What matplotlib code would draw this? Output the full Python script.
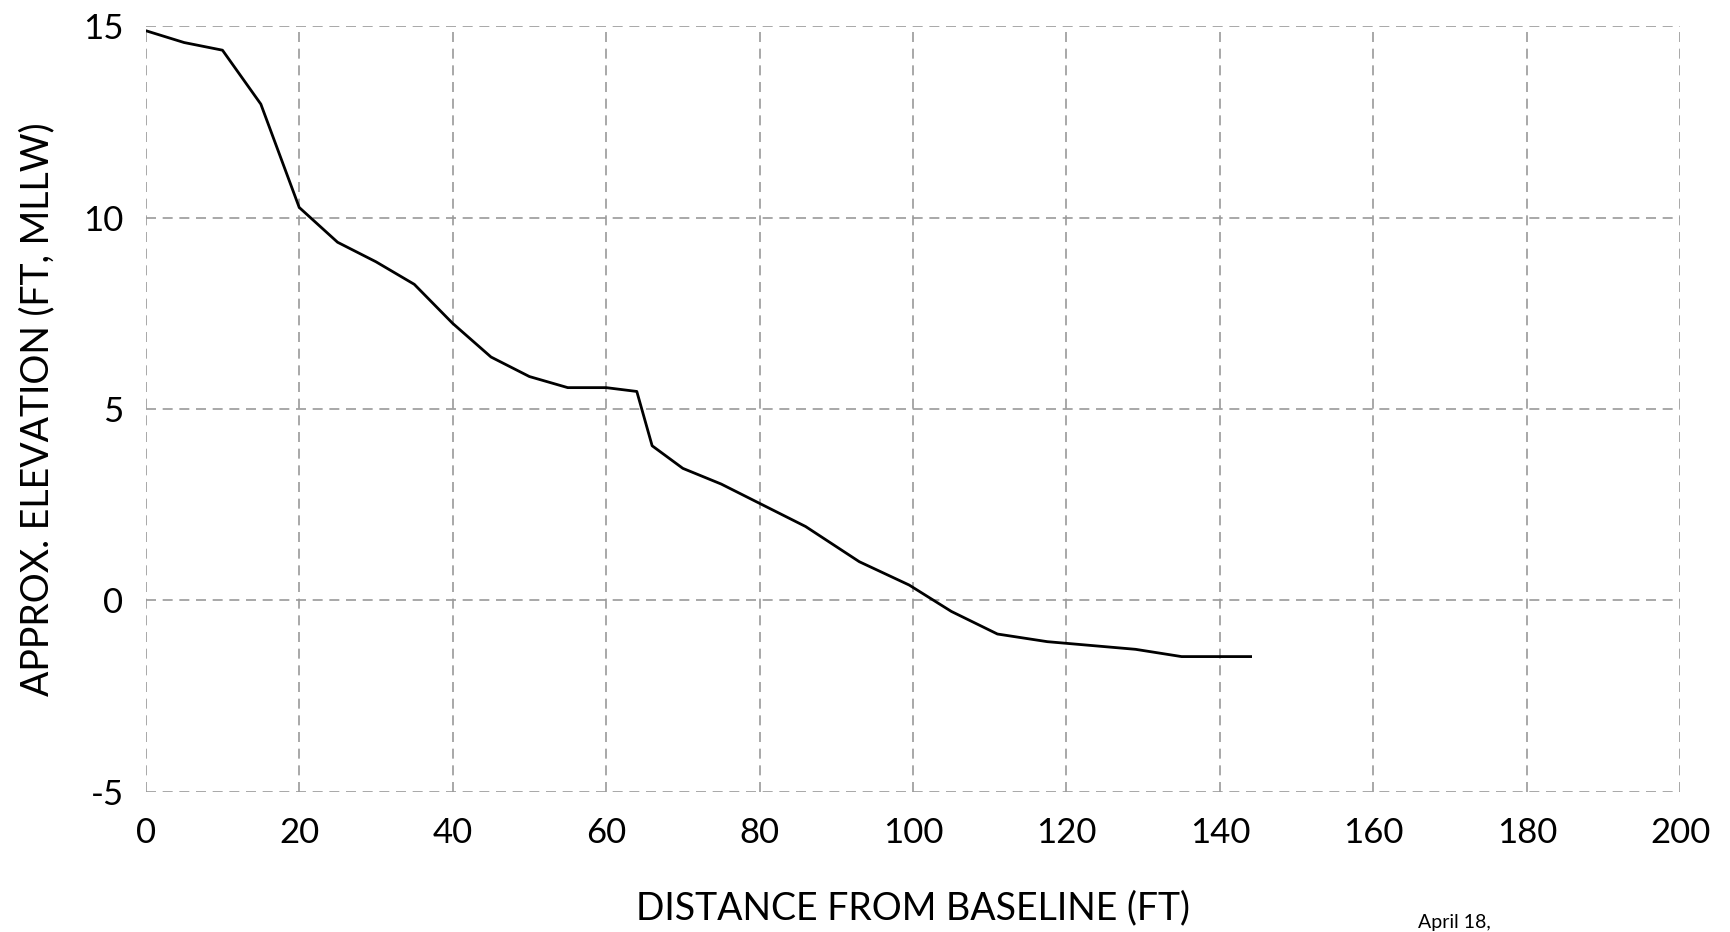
import matplotlib
matplotlib.use("Agg")
import matplotlib.pyplot as plt

# --- profil verisi (mesafe ft, kot ft MLLW)
distance = [0, 5, 10, 15, 20, 25, 30, 35, 40, 45, 50, 55, 60, 64, 66, 70, 75,
            86, 93, 99.5, 105, 111, 117.5, 129, 135, 144]
elevation = [14.89, 14.58, 14.38, 12.97, 10.27, 9.36, 8.85, 8.26, 7.24, 6.36,
             5.85, 5.56, 5.56, 5.46, 4.04, 3.45, 3.04, 1.93, 1.01, 0.40, -0.29,
             -0.88, -1.08, -1.28, -1.47, -1.47]

x_ticks = [0, 20, 40, 60, 80, 100, 120, 140, 160, 180, 200]
y_ticks = [-5, 0, 5, 10, 15]
date_note = "April 18,"

plt.rcParams["font.family"] = ["Lato", "DejaVu Sans"]
plt.rcParams["axes.unicode_minus"] = False

fig = plt.figure(figsize=(17.31, 9.32), dpi=100)
ax = fig.add_axes([0.0842, 0.1506, 0.8865, 0.821])

ax.plot(distance, elevation, color="black", linewidth=2.0, zorder=3)

ax.set_xlim(0, 200)
ax.set_ylim(-5, 15)
ax.set_xticks(x_ticks)
ax.set_yticks(y_ticks)
ax.grid(True, color="#9a9a9a", linestyle=(0, (6, 4)), linewidth=1.2)
for s in ax.spines.values():
    s.set_visible(False)
ax.tick_params(length=0, labelsize=25)
ax.tick_params(axis="x", pad=18)
ax.tick_params(axis="y", pad=16)

ax.set_xlabel("DISTANCE FROM BASELINE (FT)", fontsize=27, labelpad=30)
ax.set_ylabel("APPROX. ELEVATION (FT, MLLW)", fontsize=27, labelpad=20)

fig.text(0.840, 0.001, date_note, fontsize=14, ha="center", va="bottom")

fig.savefig("out.png", dpi=100)
